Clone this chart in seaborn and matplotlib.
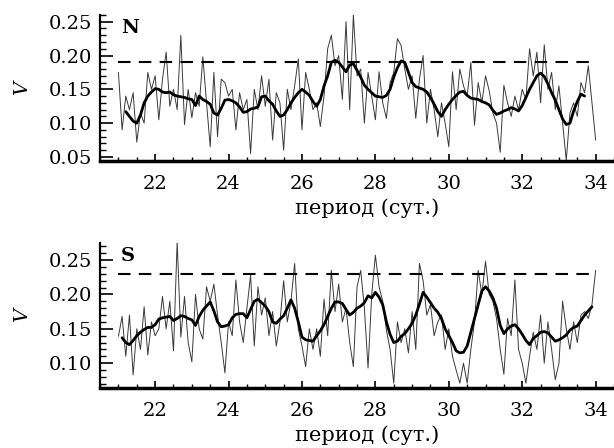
import numpy as np
import pandas as pd
import matplotlib
matplotlib.use("Agg")
import matplotlib.pyplot as plt
from matplotlib.ticker import MultipleLocator
import seaborn as sns

# period grid (days), 0.1 step
period_raw = np.round(np.linspace(21.0, 34.0, 131), 2)

n_raw = [
    0.175, 0.090, 0.140, 0.120, 0.145, 0.072, 0.115, 0.100, 0.175, 0.150,
    0.170, 0.105, 0.165, 0.205, 0.125, 0.150, 0.120, 0.230, 0.098, 0.150,
    0.108, 0.145, 0.125, 0.198, 0.130, 0.065, 0.175, 0.080, 0.165, 0.160,
    0.140, 0.150, 0.090, 0.145, 0.120, 0.135, 0.055, 0.150, 0.120, 0.170,
    0.125, 0.165, 0.075, 0.145, 0.130, 0.060, 0.150, 0.120, 0.155, 0.195,
    0.090, 0.175, 0.150, 0.120, 0.130, 0.095, 0.140, 0.210, 0.230, 0.185,
    0.200, 0.135, 0.250, 0.120, 0.260, 0.170, 0.180, 0.100, 0.175, 0.140,
    0.105, 0.176, 0.130, 0.107, 0.160, 0.175, 0.225, 0.215, 0.180, 0.150,
    0.170, 0.107, 0.165, 0.200, 0.100, 0.150, 0.120, 0.080, 0.130, 0.100,
    0.065, 0.176, 0.120, 0.180, 0.155, 0.140, 0.190, 0.097, 0.160, 0.130,
    0.170, 0.148, 0.115, 0.100, 0.057, 0.156, 0.130, 0.110, 0.140, 0.120,
    0.150, 0.135, 0.210, 0.170, 0.205, 0.130, 0.216, 0.150, 0.175, 0.120,
    0.155, 0.100, 0.045, 0.115, 0.130, 0.110, 0.160, 0.145, 0.185, 0.130,
    0.075,
]

s_raw = [
    0.139, 0.168, 0.110, 0.170, 0.083, 0.150, 0.120, 0.182, 0.112, 0.160,
    0.140, 0.150, 0.197, 0.150, 0.190, 0.118, 0.277, 0.138, 0.197, 0.130,
    0.102, 0.200, 0.150, 0.135, 0.211, 0.190, 0.215, 0.170, 0.130, 0.086,
    0.160, 0.140, 0.221, 0.160, 0.130, 0.180, 0.228, 0.125, 0.211, 0.170,
    0.195, 0.140, 0.175, 0.125, 0.160, 0.220, 0.160, 0.190, 0.245, 0.150,
    0.125, 0.095, 0.150, 0.120, 0.150, 0.110, 0.193, 0.140, 0.235, 0.175,
    0.215, 0.160, 0.180, 0.130, 0.095, 0.211, 0.235, 0.180, 0.093, 0.200,
    0.257, 0.211, 0.190, 0.148, 0.120, 0.071, 0.160, 0.130, 0.150, 0.115,
    0.175, 0.120, 0.245, 0.220, 0.170, 0.185, 0.140, 0.160, 0.170, 0.120,
    0.150, 0.110, 0.090, 0.071, 0.100, 0.071, 0.120, 0.160, 0.235, 0.200,
    0.248, 0.200, 0.190, 0.165, 0.120, 0.084, 0.165, 0.140, 0.221, 0.120,
    0.100, 0.071, 0.110, 0.145, 0.120, 0.170, 0.100, 0.160, 0.120, 0.076,
    0.100, 0.190, 0.150, 0.120, 0.160, 0.130, 0.170, 0.175, 0.165, 0.185,
    0.235,
]

# smoothed curves
period_n_smooth = np.round(np.linspace(21.2, 33.7, 126), 2)
n_smooth = [
    0.117, 0.110, 0.103, 0.100, 0.112, 0.130, 0.140, 0.146, 0.151, 0.150,
    0.146, 0.145, 0.146, 0.142, 0.140, 0.139, 0.138, 0.136, 0.135, 0.126,
    0.140, 0.135, 0.132, 0.128, 0.115, 0.112, 0.122, 0.134, 0.135, 0.133,
    0.130, 0.124, 0.116, 0.117, 0.121, 0.122, 0.124, 0.139, 0.140, 0.133,
    0.128, 0.118, 0.110, 0.112, 0.120, 0.130, 0.138, 0.145, 0.150, 0.146,
    0.141, 0.132, 0.125, 0.135, 0.155, 0.170, 0.190, 0.193, 0.190, 0.183,
    0.176, 0.186, 0.188, 0.178, 0.168, 0.156, 0.150, 0.145, 0.140, 0.139,
    0.138, 0.141, 0.150, 0.168, 0.182, 0.192, 0.190, 0.175, 0.160, 0.154,
    0.152, 0.150, 0.146, 0.138, 0.128, 0.117, 0.110, 0.120, 0.128, 0.135,
    0.141, 0.146, 0.147, 0.141, 0.137, 0.136, 0.135, 0.132, 0.130, 0.127,
    0.119, 0.113, 0.115, 0.118, 0.120, 0.123, 0.121, 0.118, 0.126, 0.138,
    0.150, 0.160, 0.170, 0.174, 0.169, 0.158, 0.145, 0.134, 0.120, 0.106,
    0.098, 0.100, 0.118, 0.132, 0.143, 0.140,
]

period_s_smooth = np.round(np.linspace(21.1, 33.9, 129), 2)
s_smooth = [
    0.137, 0.130, 0.127, 0.133, 0.140, 0.145, 0.149, 0.152, 0.152, 0.156,
    0.164, 0.166, 0.167, 0.168, 0.162, 0.165, 0.169, 0.168, 0.165, 0.163,
    0.155, 0.168, 0.177, 0.183, 0.189, 0.176, 0.160, 0.153, 0.154, 0.156,
    0.166, 0.171, 0.172, 0.172, 0.166, 0.178, 0.190, 0.193, 0.188, 0.183,
    0.175, 0.160, 0.158, 0.164, 0.169, 0.180, 0.192, 0.180, 0.160, 0.138,
    0.134, 0.133, 0.132, 0.140, 0.147, 0.156, 0.168, 0.180, 0.189, 0.189,
    0.187, 0.178, 0.170, 0.174, 0.180, 0.183, 0.188, 0.198, 0.195, 0.203,
    0.196, 0.185, 0.160, 0.142, 0.130, 0.132, 0.139, 0.143, 0.150, 0.158,
    0.170, 0.186, 0.203, 0.196, 0.188, 0.180, 0.174, 0.165, 0.150, 0.140,
    0.130, 0.118, 0.115, 0.116, 0.125, 0.145, 0.165, 0.185, 0.205, 0.211,
    0.205, 0.195, 0.180, 0.155, 0.143, 0.150, 0.154, 0.156, 0.150, 0.142,
    0.133, 0.127, 0.136, 0.140, 0.145, 0.146, 0.144, 0.138, 0.132, 0.134,
    0.137, 0.141, 0.148, 0.152, 0.154, 0.162, 0.170, 0.176, 0.182,
]

# significance levels
level_n = 0.19
level_s = 0.23

sns.set_theme(style="ticks")
plt.rcParams["font.family"] = ["DejaVu Serif"]
plt.rcParams["mathtext.fontset"] = "dejavuserif"
plt.rcParams["text.color"] = "black"
plt.rcParams["axes.labelcolor"] = "black"

fig = plt.figure(figsize=(6.14, 4.48), dpi=100)
ax_n = fig.add_axes([0.163, 0.6406, 0.837, 0.326])
ax_s = fig.add_axes([0.163, 0.134, 0.837, 0.324])

panels = [
    (ax_n, n_raw, period_n_smooth, n_smooth, level_n, "N", (0.044, 0.26), 0.05),
    (ax_s, s_raw, period_s_smooth, s_smooth, level_s, "S", (0.064, 0.275), 0.10),
]

for ax, raw, ps, smooth, level, name, ylim, ymin_tick in panels:
    df_raw = pd.DataFrame({"p": period_raw, "v": raw})
    df_sm = pd.DataFrame({"p": ps, "v": smooth})
    sns.lineplot(data=df_raw, x="p", y="v", ax=ax, color="#3a3a3a",
                 linewidth=0.7, estimator=None)
    sns.lineplot(data=df_sm, x="p", y="v", ax=ax, color="black",
                 linewidth=2.0, estimator=None)
    ax.plot([21, 34], [level, level], color="black", linewidth=1.5,
            dashes=(6, 4))

    ax.set_xlim(20.5, 34.5)
    ax.set_ylim(*ylim)
    ax.set_xticks(np.arange(22, 35, 2))
    ax.xaxis.set_minor_locator(MultipleLocator(0.5))
    ax.set_yticks(np.arange(ymin_tick, 0.2501, 0.05))
    ax.yaxis.set_minor_locator(MultipleLocator(0.01))
    ax.yaxis.set_major_formatter(plt.FormatStrFormatter("%.2f"))

    sns.despine(ax=ax)
    ax.spines["left"].set_linewidth(1.6)
    ax.spines["left"].set_color("black")
    ax.spines["bottom"].set_linewidth(2.5)
    ax.spines["bottom"].set_color("black")
    ax.tick_params(axis="both", which="both", direction="in", colors="black",
                   labelsize=14)
    ax.tick_params(axis="y", which="major", length=9, width=1.2, pad=6)
    ax.tick_params(axis="y", which="minor", length=4.5, width=1.0)
    ax.tick_params(axis="x", which="major", length=5, width=1.2, pad=10)
    ax.tick_params(axis="x", which="minor", length=3, width=1.0)

    ax.set_xlabel("период (сут.)", fontsize=15)
    ax.xaxis.set_label_coords(0.52, -0.255)
    ax.set_ylabel("V", fontsize=14, style="italic")
    ax.yaxis.set_label_coords(-0.135, 0.5)
    ax.text(0.04, 0.97, name, transform=ax.transAxes, fontsize=14,
            fontweight="bold", va="top", ha="left", color="black")

fig.savefig("out.png", dpi=100)
